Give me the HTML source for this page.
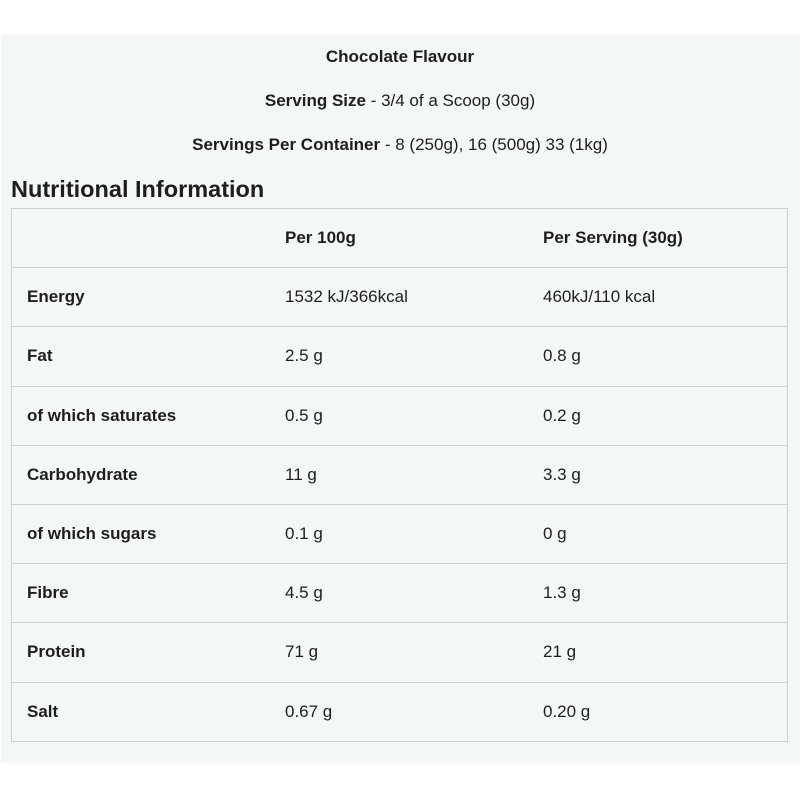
<!DOCTYPE html><html><head><style>
body{margin:0;width:800px;height:800px;background:#fff;position:relative;font-family:"Liberation Sans",sans-serif;color:#1e1e1e;overflow:hidden}
.p{position:absolute;left:1px;top:35px;width:799px;height:728px;background:#f3f7f8}
.c{position:absolute;left:0;width:800px;text-align:center;font-size:17px}
b{font-weight:bold}
h2{position:absolute;left:11px;top:176px;margin:0;font-size:23.5px;font-weight:bold}
table{position:absolute;left:11px;top:208px;width:777px;border-collapse:collapse;font-size:17px;border:1px solid #ccd0d2}
td{border-top:1px solid #ccd0d2;height:58.2px;padding:0;vertical-align:middle}
td:nth-child(1){padding-left:15px;width:258px;font-weight:bold}
td:nth-child(2){width:258px}
</style></head><body>
<div class="p"></div>
<div class="c" style="top:47px"><b>Chocolate Flavour</b></div>
<div class="c" style="top:91px"><b>Serving Size</b> - 3/4 of a Scoop (30g)</div>
<div class="c" style="top:135px"><b>Servings Per Container</b> - 8 (250g), 16 (500g) 33 (1kg)</div>
<h2>Nutritional Information</h2>
<table>
<tr><td></td><td><b>Per 100g</b></td><td><b>Per Serving (30g)</b></td></tr>
<tr><td>Energy</td><td>1532 kJ/366kcal</td><td>460kJ/110 kcal</td></tr>
<tr><td>Fat</td><td>2.5 g</td><td>0.8 g</td></tr>
<tr><td>of which saturates</td><td>0.5 g</td><td>0.2 g</td></tr>
<tr><td>Carbohydrate</td><td>11 g</td><td>3.3 g</td></tr>
<tr><td>of which sugars</td><td>0.1 g</td><td>0 g</td></tr>
<tr><td>Fibre</td><td>4.5 g</td><td>1.3 g</td></tr>
<tr><td>Protein</td><td>71 g</td><td>21 g</td></tr>
<tr><td>Salt</td><td>0.67 g</td><td>0.20 g</td></tr>
</table>
</body></html>
